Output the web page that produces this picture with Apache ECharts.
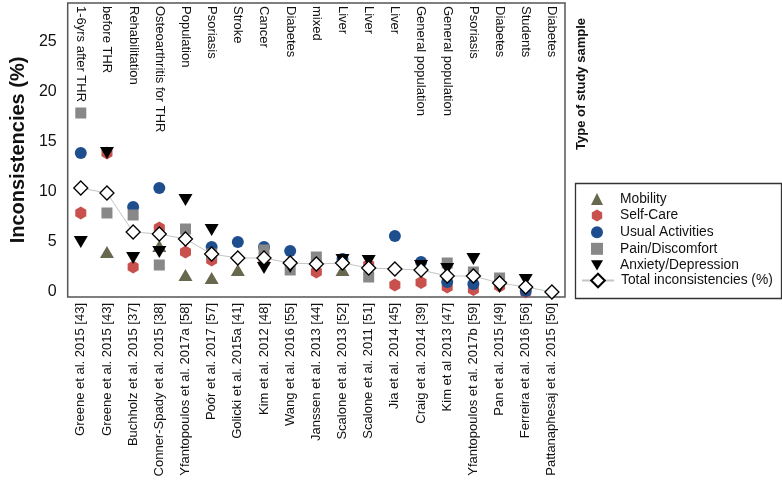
<!DOCTYPE html>
<html>
<head>
<meta charset="utf-8">
<script src="https://cdn.jsdelivr.net/npm/echarts@6/dist/echarts.min.js"></script>
<style>html,body{margin:0;padding:0;background:#fff}#c{width:782px;height:491px}</style>
</head>
<body>
<div id="c"></div>
<script>
var studies = ["Greene et al. 2015 [43]","Greene et al. 2015 [43]","Buchholz et al. 2015 [37]","Conner-Spady et al. 2015 [38]","Yfantopoulos et al. 2017a [58]","Poór et al. 2017 [57]","Golicki et al. 2015a [41]","Kim et al. 2012 [48]","Wang et al. 2016 [55]","Janssen et al. 2013 [44]","Scalone et al. 2013 [52]","Scalone et al. 2011 [51]","Jia et al. 2014 [45]","Craig et al. 2014 [39]","Kim et al 2013 [47]","Yfantopoulos et al. 2017b [59]","Pan et al. 2015 [49]","Ferreira et al. 2016 [56]","Pattanaphesaj et al. 2015 [50]"];
var sampleTypes = ["1-6yrs after THR","before THR","Rehabilitation","Osteoarthritis for THR","Population","Psoriasis","Stroke","Cancer","Diabetes","mixed","Liver","Liver","Liver","General population","General population","Psoriasis","Diabetes","Students","Diabetes"];
var mobility = [null,4.0,null,4.6,1.7,1.4,2.2,null,null,null,2.2,null,null,null,null,null,null,null,null];
var selfCare = [7.9,13.9,2.5,6.4,4.0,3.2,null,3.0,null,2.0,null,2.7,0.7,0.95,0.5,0.25,0.6,0.0,null];
var usualActivities = [13.9,null,8.5,10.4,null,4.5,5.0,4.5,4.1,null,3.3,null,5.6,3.0,1.0,0.8,null,0.1,null];
var painDiscomfort = [17.9,7.9,7.7,2.7,6.3,3.8,null,4.2,2.2,3.5,null,1.5,null,null,2.9,2.0,1.4,null,null];
var anxietyDepression = [5.0,13.9,3.4,4.0,9.2,6.2,null,2.4,2.5,null,3.2,3.1,null,2.6,2.3,3.3,0.5,1.2,null];
var totalInconsistencies = [10.4,9.9,6.0,5.8,5.3,3.8,3.4,3.4,2.9,2.8,2.9,2.4,2.3,2.2,1.6,1.6,0.9,0.5,0.0];
var yTicks = [0,5,10,15,20,25];

var FONT = "'Liberation Sans', Arial, sans-serif";
var hexPath = 'path://M0,-1 L0.866,-0.5 L0.866,0.5 L0,1 L-0.866,0.5 L-0.866,-0.5 Z';
var triDown = 'path://M0,0 L10,0 L5,8.7 Z';

var chart = echarts.init(document.getElementById('c'), null, {renderer: 'canvas'});
var option = {
  animation: false,
  backgroundColor: '#fff',
  textStyle: {fontFamily: FONT},
  grid: {left: 64, right: 217, top: 3, bottom: 194, show: true, borderColor: '#555', borderWidth: 1.5, backgroundColor: 'transparent'},
  xAxis: [{
    type: 'category', data: studies, position: 'bottom', boundaryGap: true,
    axisLine: {show: false}, axisTick: {show: false}, splitLine: {show: false},
    axisLabel: {rotate: 90, interval: 0, margin: 6, fontSize: 13, color: '#111', fontFamily: FONT}
  }, {
    type: 'category', data: sampleTypes, position: 'top', boundaryGap: true,
    axisLine: {show: false}, axisTick: {show: false}, splitLine: {show: false},
    axisLabel: {inside: true, rotate: 90, interval: 0, margin: 3, fontSize: 13, color: '#111', fontFamily: FONT}
  }],
  yAxis: {
    type: 'value', min: -0.5, max: 28.9,
    axisLine: {show: false}, axisTick: {show: false}, splitLine: {show: false},
    axisLabel: {customValues: yTicks, fontSize: 16, color: '#111', margin: 11, fontFamily: FONT},
    name: 'Inconsistencies (%)', nameLocation: 'middle', nameGap: 37,
    nameTextStyle: {fontSize: 20, fontWeight: 'bold', color: '#111', fontFamily: FONT}
  },
  legend: [{
    left: 591, top: 191, orient: 'vertical', padding: 0, itemGap: 0.6,
    itemWidth: 12, itemHeight: 12,
    textStyle: {fontSize: 13.8, color: '#111', lineHeight: 16, padding: [0, 0, 0, 12], fontFamily: FONT},
    data: ['Mobility','Self-Care','Usual Activities','Pain/Discomfort','Anxiety/Depression']
  }, {
    left: 581, top: 272.5, orient: 'vertical', padding: 0,
    itemWidth: 32, itemHeight: 17,
    textStyle: {fontSize: 13.8, color: '#111', lineHeight: 16, padding: [0, 0, 0, 2], fontFamily: FONT},
    data: ['Total inconsistencies (%)']
  }],
  graphic: [{
    type: 'rect', left: 573, top: 181, shape: {width: 206, height: 115},
    style: {fill: 'none', stroke: '#333', lineWidth: 1.3}, silent: true
  }, {
    type: 'text', x: 581, y: 84, rotation: Math.PI / 2,
    style: {text: 'Type of study sample', font: "bold 13px 'Liberation Sans', Arial, sans-serif", fill: '#111', align: 'center', verticalAlign: 'middle'}
  }],
  series: [{
    name: 'Mobility', type: 'scatter', data: mobility,
    symbol: 'triangle', symbolSize: [14, 12], itemStyle: {color: '#68684f', opacity: 1}
  }, {
    name: 'Self-Care', type: 'scatter', data: selfCare,
    symbol: hexPath, symbolSize: [11, 13], symbolKeepAspect: false, itemStyle: {color: '#c8504d', opacity: 1}
  }, {
    name: 'Usual Activities', type: 'scatter', data: usualActivities,
    symbol: 'circle', symbolSize: 12, itemStyle: {color: '#1f4e8e', opacity: 1}
  }, {
    name: 'Pain/Discomfort', type: 'scatter', data: painDiscomfort,
    symbol: 'rect', symbolSize: 11, itemStyle: {color: '#888888', opacity: 1}
  }, {
    name: 'Anxiety/Depression', type: 'scatter', data: anxietyDepression,
    symbol: triDown, symbolSize: [14, 12], itemStyle: {color: '#000000', opacity: 1}
  }, {
    name: 'Total inconsistencies (%)', type: 'line', data: totalInconsistencies,
    symbol: 'diamond', symbolSize: 14, showAllSymbol: true,
    lineStyle: {color: '#c4c4c4', width: 1},
    itemStyle: {color: '#ffffff', borderColor: '#000', borderWidth: 1.3}
  }]
};
chart.setOption(option);
</script>
</body>
</html>
